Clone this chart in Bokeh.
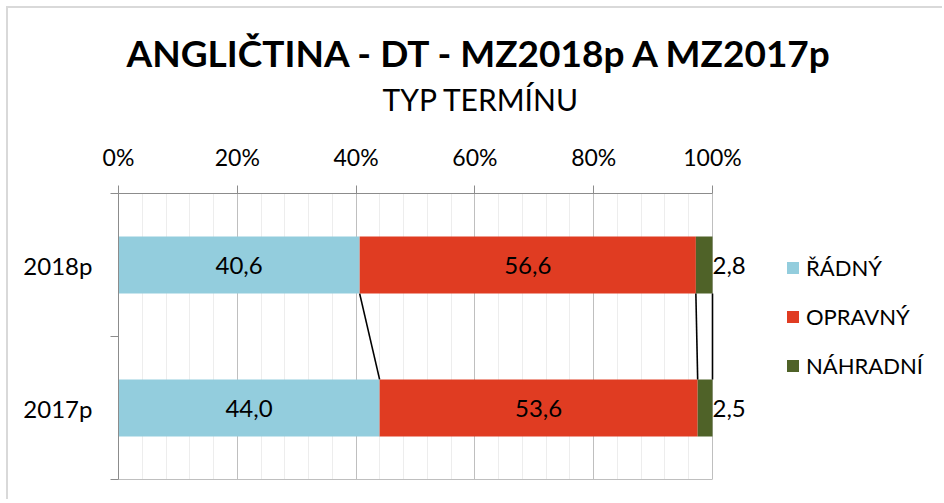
from bokeh.plotting import figure
from bokeh.models import (ColumnDataSource, FixedTicker, Title, Legend, LegendItem,
                          LabelSet, Range1d, LinearAxis)
from bokeh.core.properties import value
from bokeh.embed import file_html
from bokeh.resources import INLINE

# ---- data ----
categories = ["2018p", "2017p"]
series_names = ["ŘÁDNÝ", "OPRAVNÝ", "NÁHRADNÍ"]
radny = [40.6, 44.0]
opravny = [56.6, 53.6]
nahradni = [2.8, 2.5]
x_ticks = [0, 20, 40, 60, 80, 100]
x_tick_labels = ["0%", "20%", "40%", "60%", "80%", "100%"]
title_text = "ANGLIČTINA - DT - MZ2018p A MZ2017p"
subtitle_text = "TYP TERMÍNU"

colors = ["#93CDDD", "#E03C22", "#4F6228"]
FONT = "Lato"
AXIS_COL = "#8C8C8C"

series = [radny, opravny, nahradni]
n = len(categories)
ypos = [n - i - 0.5 for i in range(n)]
totals = [sum(s[i] for s in series) for i in range(n)]
shares = [[s[i] / totals[i] * 100 for i in range(n)] for s in series]

# layout (pixels)
W, H = 936, 493
LEFT = 110
AXIS_W = 594                      # pixel width of 0..100 %
frame_w = W - LEFT
x_end = 100 * frame_w / AXIS_W    # frame extends to the right so legend/labels fit

p = figure(width=W, height=H, x_range=Range1d(0, x_end), y_range=Range1d(0, n),
           x_axis_location="above", output_backend="svg", toolbar_location=None,
           min_border_left=LEFT, min_border_right=0, min_border_top=185,
           min_border_bottom=H - 471)
p.outline_line_color = None
p.background_fill_color = "white"
p.border_fill_color = "white"
p.styles = {"margin-left": "8px", "margin-top": "8px",
            "box-shadow": "-2px -2px 0 0 #D9D9D9"}

bar_h = 0.4
renderers = []
left = [0.0] * n
cum = []
for k, name in enumerate(series_names):
    right = [left[i] + shares[k][i] for i in range(n)]
    src = ColumnDataSource(dict(y=ypos, left=left, right=right,
                                mid=[(left[i] + right[i]) / 2 for i in range(n)],
                                lab=[f"{series[k][i]:.1f}".replace(".", ",") for i in range(n)]))
    r = p.hbar(y="y", left="left", right="right", height=bar_h, source=src,
               fill_color=colors[k], line_color=None)
    renderers.append(r)
    if k < len(series_names) - 1:
        ls = LabelSet(x="mid", y="y", text="lab", source=src, text_align="center",
                      text_baseline="middle", text_font=value(FONT), text_font_size="24px",
                      text_color="black")
    else:
        ls = LabelSet(x="right", y="y", text="lab", source=src, text_align="left",
                      text_baseline="middle", text_font=value(FONT), text_font_size="24px",
                      text_color="black", x_offset=0)
    p.add_layout(ls)
    cum.append(right)
    left = right

# series lines
p.segment(x0=[c[0] for c in cum], y0=[ypos[0] - bar_h / 2] * len(cum),
          x1=[c[1] for c in cum], y1=[ypos[1] + bar_h / 2] * len(cum),
          line_color="black", line_width=1.6)

# x axis (top)
xa = p.xaxis[0]
xa.bounds = (0, 100)
xa.ticker = FixedTicker(ticks=x_ticks, minor_ticks=list(range(0, 101, 4)))
xa.major_label_overrides = {t: l for t, l in zip(x_ticks, x_tick_labels)}
xa.major_tick_out = 8
xa.major_tick_in = 0
xa.minor_tick_out = 0
xa.minor_tick_in = 0
xa.axis_line_color = AXIS_COL
xa.major_tick_line_color = AXIS_COL
xa.major_label_text_font = FONT
xa.major_label_text_font_size = "23px"
xa.major_label_text_color = "black"
xa.major_label_standoff = 15
xa.axis_label = " "
xa.axis_label_text_font_size = "1px"
xa.axis_label_standoff = 15

p.xgrid.bounds = (0, 100)
p.xgrid.grid_line_color = "#BFBFBF"
p.xgrid.minor_grid_line_color = "#EDEDED"
p.ygrid.grid_line_color = None

# bottom edge line of the plot area
xb = LinearAxis(bounds=(0, 100), ticker=FixedTicker(ticks=[]),
                axis_line_color="#BFBFBF", major_tick_line_color=None,
                minor_tick_line_color=None, major_label_text_font_size="0px")
p.add_layout(xb, "below")

# y axis (categories)
ya = p.yaxis[0]
ya.ticker = FixedTicker(ticks=ypos, minor_ticks=list(range(0, n + 1)))
ya.major_label_overrides = {y: c for y, c in zip(ypos, categories)}
ya.major_tick_out = 0
ya.major_tick_in = 0
ya.minor_tick_out = 8
ya.minor_tick_in = 0
ya.minor_tick_line_color = AXIS_COL
ya.axis_line_color = AXIS_COL
ya.major_label_text_font = FONT
ya.major_label_text_font_size = "24px"
ya.major_label_text_color = "black"
ya.major_label_standoff = 18

# titles
p.add_layout(Title(text=subtitle_text, align="left", offset=264, text_font=FONT,
                   text_font_size="30px", text_font_style="normal", standoff=8,
                   text_color="black"), "above")
p.add_layout(Title(text=title_text, align="left", offset=8, text_font=FONT,
                   text_font_size="37px", text_font_style="bold", standoff=0,
                   text_color="black"), "above")

# legend
legend = Legend(items=[LegendItem(label=nm, renderers=[r]) for nm, r in zip(series_names, renderers)],
                location=(667, 100), orientation="vertical",
                glyph_width=15, glyph_height=15, label_standoff=6,
                label_text_font=FONT, label_text_font_size="22px",
                label_text_color="black", label_height=24, spacing=22,
                padding=0, margin=0, border_line_color=None,
                background_fill_alpha=0)
p.add_layout(legend, "center")

open("out.html", "w").write(file_html(p, INLINE))
